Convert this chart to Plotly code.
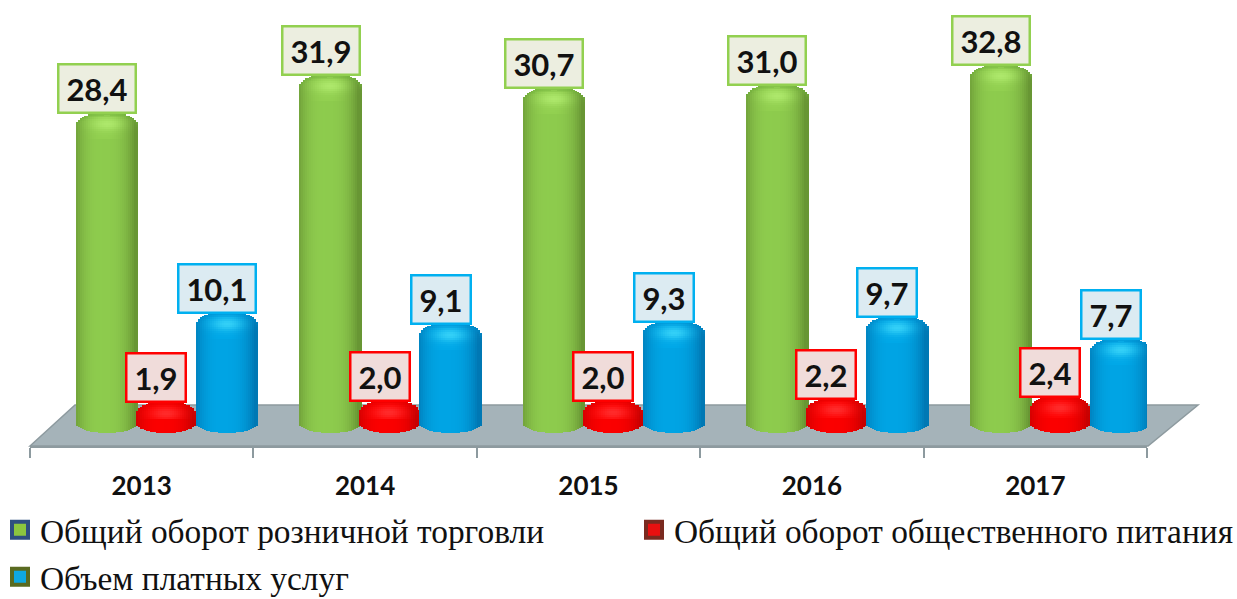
import math
import plotly.graph_objects as go

years = ["2013", "2014", "2015", "2016", "2017"]
retail = [28.4, 31.9, 30.7, 31.0, 32.8]
catering = [1.9, 2.0, 2.0, 2.2, 2.4]
services = [10.1, 9.1, 9.3, 9.7, 7.7]
labels_retail = ["28,4", "31,9", "30,7", "31,0", "32,8"]
labels_catering = ["1,9", "2,0", "2,0", "2,2", "2,4"]
labels_services = ["10,1", "9,1", "9,3", "9,7", "7,7"]
names = ["Общий оборот розничной торговли", "Общий оборот общественного питания", "Объем платных услуг"]

W, H = 1237, 599
L, R, B = 30, 90, 153
PXX = (W - L - R) / 5.0
PXY = 10.9
yr_low = -(446 - 423) / PXY
yr_high = 423 / PXY


def mix(a, b, t):
    t = max(0, min(1, t))
    return tuple(a[i] + (b[i] - a[i]) * t for i in range(3))


def css(c):
    return "rgb(%d,%d,%d)" % tuple(round(x) for x in c)


series = [
    dict(vals=retail, off=-34.5, w=62, edge=(104, 150, 52), mid=(146, 208, 80), hi=(178, 236, 112),
         rim=(112, 176, 60), fill="#eceee0", line="#92d050", labels=labels_retail, sw="#8cc63f", swl="#2f4f80", name=names[0]),
    dict(vals=catering, off=24.5, w=60, edge=(200, 0, 0), mid=(255, 0, 0), hi=(255, 50, 50),
         rim=(225, 0, 0), fill="#f0dcda", line="#ff0000", labels=labels_catering, sw="#e81010", swl="#7a2a20", name=names[1]),
    dict(vals=services, off=85.5, w=62, edge=(0, 120, 180), mid=(0, 168, 232), hi=(60, 215, 250),
         rim=(0, 140, 205), fill="#dcebf2", line="#00b0f0", labels=labels_services, sw="#10a8e0", swl="#5a6a20", name=names[2]),
]

fig = go.Figure()
annotations = []
STRIP = 2.0
SEG = 2.0
for s in series:
    half = s["w"] / 2
    n = int(s["w"] / STRIP)
    xs, ys, bases, cols = [], [], [], []
    for c, v in enumerate(s["vals"]):
        height_px = v * PXY
        capd = min(26, height_px * 0.8)
        for j in range(n):
            px = -half + (j + 0.5) * STRIP
            u = abs(px) / half
            top_drop = 15 * (1 - (1 - u ** 2.6) ** (1 / 2.6))
            bot_rise = 10 * (1 - (1 - u ** 2) ** 0.5)
            shade = min(1, abs((px + 3) / half)) ** 2.4
            base_col = mix(s["mid"], s["edge"], shade)
            x = c + (s["off"] + px) / PXX
            top_px = height_px - top_drop
            body_top = height_px - capd
            bottom = -10 + bot_rise
            # body
            xs.append(x)
            bases.append(bottom / PXY)
            ys.append((body_top + 1 - bottom) / PXY)
            cols.append(css(mix(base_col, s["rim"], 0.15 * (1 - bot_rise / 10) ** 6)))
            # cap cells from the body up to the surface
            yy = body_top
            while yy < top_px:
                seg_top = min(top_px, yy + SEG + 0.4)
                dy = height_px - (yy + SEG / 2)
                light = math.exp(-((px / (half * 0.5)) ** 2 + ((dy - 11) / 6.5) ** 2))
                col = mix(base_col, s["hi"], 0.85 * light)
                edge_d = top_px - yy
                if edge_d < 6:
                    col = mix(col, s["rim"], 0.6 * (1 - edge_d / 6))
                xs.append(x)
                bases.append(yy / PXY)
                ys.append((seg_top - yy) / PXY)
                cols.append(css(col))
                yy += SEG
    fig.add_trace(go.Bar(x=xs, y=ys, base=bases, width=(STRIP + 0.4) / PXX,
                         marker=dict(color=cols, line=dict(width=0)), showlegend=False, hoverinfo="skip"))
    for c, v in enumerate(s["vals"]):
        cx = c + s["off"] / PXX
        nchars = len(s["labels"][c])
        annotations.append(dict(x=cx, y=v, xref="x", yref="y", xanchor="center", yanchor="bottom",
                                xshift=-10, yshift=-1, text="<b>%s</b>" % s["labels"][c], showarrow=False,
                                width=75 if nchars == 4 else 57, height=46, align="center", valign="middle",
                                font=dict(family="Lato", size=31, color="#111111"),
                                bgcolor=s["fill"], bordercolor=s["line"], borderwidth=2.5, borderpad=0))


def pw(x):
    return x / W


def ph(y):
    return 1 - y / H


floor = "M %f %f L %f %f L %f %f L %f %f Z" % (pw(30), ph(446), pw(75), ph(405), pw(1198), ph(405), pw(1148), ph(446))
shapes = [dict(type="path", path=floor, xref="paper", yref="paper", layer="below",
               fillcolor="#a5b3b9", line=dict(color="#8d9a9f", width=1.5))]

legend_pos = [(0, 530), (634, 530), (0, 577)]
for i, s in enumerate(series):
    lid = "legend" if i == 0 else "legend%d" % (i + 1)
    fig.add_trace(go.Scatter(x=[None], y=[None], mode="markers", name=s["name"], legend=lid,
                             marker=dict(symbol="square", size=16, color=s["sw"],
                                         line=dict(color=s["swl"], width=4))))

leg = {}
for i, (lx, ly) in enumerate(legend_pos):
    key = "legend" if i == 0 else "legend%d" % (i + 1)
    leg[key] = dict(x=pw(lx), y=ph(ly), xanchor="left", yanchor="middle", bgcolor="rgba(0,0,0,0)",
                    itemsizing="trace", itemwidth=30, borderwidth=0,
                    font=dict(family="Liberation Serif", size=33.4, color="#111111"))

fig.update_layout(
    width=W, height=H, margin=dict(l=0, r=0, t=0, b=0, autoexpand=False), autosize=False,
    paper_bgcolor="white", plot_bgcolor="rgba(0,0,0,0)", barmode="overlay", bargap=0,
    shapes=shapes, annotations=annotations,
    xaxis=dict(domain=[L / W, 1 - R / W], range=[-0.5, 4.5], tickvals=list(range(5)), ticktext=years, ticks="",
               showgrid=False, zeroline=False,
               showline=True, linecolor="#8d9a9f", linewidth=1.5, ticklabelstandoff=16,
               tickfont=dict(family="Lato", size=26, color="#111111", weight="bold"),
               minor=dict(tickvals=[i - 0.5 for i in range(6)], ticks="outside", ticklen=10, tickcolor="#8d9a9f", tickwidth=1.5)),
    yaxis=dict(domain=[B / H, 1], range=[yr_low, yr_high], visible=False),
    **leg,
)
fig.write_html("out.html", config={"displayModeBar": False},
               post_script="document.body.style.margin='0';document.body.style.overflow='hidden';")
